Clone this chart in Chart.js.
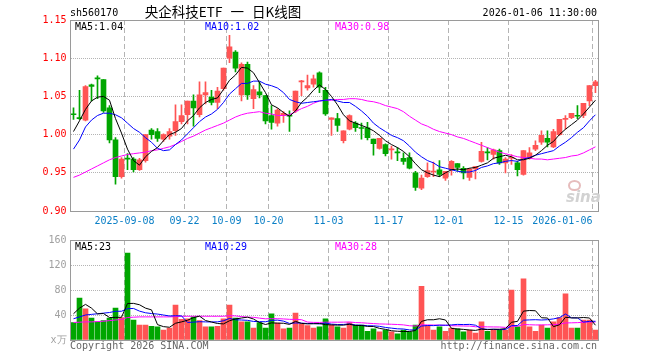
<!DOCTYPE html>
<html>
<head>
<meta charset="utf-8">
<script src="https://cdn.jsdelivr.net/npm/chart.js@4/dist/chart.umd.min.js"></script>
<style>
  body { margin: 0; background: #fff; }
  #wrap { position: relative; width: 660px; height: 360px; overflow: hidden;
          font-family: "DejaVu Sans Mono", "Liberation Mono", monospace; font-size: 10px; }
  canvas { position: absolute; left: 0; }
  #kc { top: 0; }
  #vc { top: 230px; }
  .t { position: absolute; white-space: pre; line-height: 12px; }
  .title { top: 3px; left: 223px; transform: translateX(-50%); font-family: "Noto Sans CJK SC", sans-serif;
           font-size: 13.5px; line-height: 16px; color: #000; word-spacing: 5px; }
  .logo { position: absolute; left: 566px; top: 188px; font: italic bold 15px "DejaVu Sans", sans-serif; color: #d2d2d2; }
  .eye { position: absolute; left: 568px; top: 180px; width: 9px; height: 7px; border: 2px solid #e6bcbc; border-radius: 50%; }
</style>
</head>
<body>
<div id="wrap">
  <canvas id="kc" width="660" height="230" style="width:660px;height:230px"></canvas>
  <canvas id="vc" width="660" height="130" style="width:660px;height:130px"></canvas>

  <div class="t" style="left:70px;top:7px;color:#000">sh560170</div>
  <div class="t title">央企科技ETF 一 日K线图</div>
  <div class="t" style="right:63px;top:7px;color:#000">2026-01-06 11:30:00</div>

  <div class="t" style="left:75px;top:21px;color:#000">MA5:1.04</div>
  <div class="t" style="left:205px;top:21px;color:#0000ff">MA10:1.02</div>
  <div class="t" style="left:335px;top:21px;color:#ff00ff">MA30:0.98</div>

  <div class="eye"></div>
  <div class="logo">sina</div>

  <div class="t" style="left:75px;top:241px;color:#000">MA5:23</div>
  <div class="t" style="left:205px;top:241px;color:#0000ff">MA10:29</div>
  <div class="t" style="left:335px;top:241px;color:#ff00ff">MA30:28</div>

  <div class="t" style="left:70px;top:340px;color:#666">Copyright 2026 SINA.COM</div>
  <div class="t" style="right:63px;top:340px;color:#666">http://finance.sina.com.cn</div>
</div>

<script>
// trading days shown on the chart
const dates = [
  '2025-08-26','2025-08-27','2025-08-28','2025-08-29',
  '2025-09-01','2025-09-02','2025-09-03','2025-09-04','2025-09-05',
  '2025-09-08','2025-09-09','2025-09-10','2025-09-11','2025-09-12',
  '2025-09-15','2025-09-16','2025-09-17','2025-09-18','2025-09-19',
  '2025-09-22','2025-09-23','2025-09-24','2025-09-25','2025-09-26',
  '2025-09-29','2025-09-30',
  '2025-10-09','2025-10-10',
  '2025-10-13','2025-10-14','2025-10-15','2025-10-16','2025-10-17',
  '2025-10-20','2025-10-21','2025-10-22','2025-10-23','2025-10-24',
  '2025-10-27','2025-10-28','2025-10-29','2025-10-30','2025-10-31',
  '2025-11-03','2025-11-04','2025-11-05','2025-11-06','2025-11-07',
  '2025-11-10','2025-11-11','2025-11-12','2025-11-13','2025-11-14',
  '2025-11-17','2025-11-18','2025-11-19','2025-11-20','2025-11-21',
  '2025-11-24','2025-11-25','2025-11-26','2025-11-27','2025-11-28',
  '2025-12-01','2025-12-02','2025-12-03','2025-12-04','2025-12-05',
  '2025-12-08','2025-12-09','2025-12-10','2025-12-11','2025-12-12',
  '2025-12-15','2025-12-16','2025-12-17','2025-12-18','2025-12-19',
  '2025-12-22','2025-12-23','2025-12-24','2025-12-25','2025-12-26',
  '2025-12-29','2025-12-30','2025-12-31',
  '2026-01-05','2026-01-06'
];

const tickDates = ['2025-09-08','2025-09-22','2025-10-09','2025-10-20','2025-11-03',
                   '2025-11-17','2025-12-01','2025-12-15','2026-01-06'];
const tickText = ['2025-09-08','09-22','10-09','10-20','11-03','11-17','12-01','12-15','2026-01-06          '];

const openPrice = [
  1.027,1.022,1.019,1.065,1.074,1.072,1.035,0.993,0.945,0.969,
  0.968,0.954,0.966,1.006,1.004,0.994,0.998,1.005,1.017,1.026,
  1.044,1.026,1.052,1.049,1.042,1.060,1.100,1.108,1.052,1.092,
  1.047,1.056,1.051,1.025,1.015,1.025,1.025,1.031,1.069,1.061,
  1.066,1.081,1.058,1.020,1.021,0.992,1.007,1.015,1.009,1.009,
  0.994,0.982,0.987,0.980,0.977,0.969,0.970,0.950,0.930,0.945,
  0.951,0.954,0.943,0.954,0.962,0.956,0.944,0.955,0.965,0.977,
  0.974,0.979,0.963,0.969,0.963,0.948,0.970,0.981,0.990,0.995,
  0.984,1.000,1.020,1.022,1.025,1.025,1.044,1.064
];
const highPrice = [
  1.035,1.058,1.064,1.066,1.077,1.072,1.038,0.996,0.970,0.975,
  0.970,0.969,1.000,1.008,1.008,1.001,1.008,1.039,1.039,1.044,
  1.052,1.069,1.069,1.058,1.062,1.087,1.130,1.110,1.094,1.095,
  1.064,1.069,1.051,1.038,1.034,1.030,1.031,1.057,1.071,1.078,
  1.078,1.082,1.062,1.022,1.028,1.005,1.026,1.017,1.015,1.016,
  0.994,0.995,0.988,0.985,0.983,0.976,0.976,0.952,0.947,0.963,
  0.964,0.966,0.952,0.966,0.962,0.958,0.956,0.958,0.990,0.983,
  0.981,0.981,0.970,0.974,0.965,0.979,0.983,0.992,1.005,1.005,
  1.007,1.020,1.025,1.028,1.038,1.041,1.064,1.071
];
const lowPrice = [
  1.020,1.020,1.018,1.044,1.047,1.029,0.989,0.935,0.943,0.954,
  0.951,0.953,0.964,0.994,0.991,0.991,0.994,0.999,1.014,1.014,
  1.011,1.023,1.040,1.039,1.034,1.058,1.094,1.082,1.044,1.046,
  1.034,1.048,1.014,1.007,1.011,1.016,1.004,1.029,1.051,1.058,
  1.062,1.055,1.025,0.999,1.004,0.989,1.006,1.004,0.994,0.993,
  0.973,0.981,0.972,0.968,0.966,0.961,0.955,0.927,0.928,0.944,
  0.945,0.945,0.940,0.947,0.952,0.942,0.940,0.942,0.964,0.967,
  0.968,0.961,0.950,0.961,0.946,0.947,0.968,0.979,0.987,0.984,
  0.983,0.999,1.007,1.021,1.021,1.022,1.038,1.055
];
const closePrice = [
  1.026,1.021,1.063,1.063,1.073,1.031,0.993,0.945,0.968,0.968,
  0.954,0.967,1.000,1.000,0.995,1.000,1.004,1.017,1.025,1.044,
  1.035,1.052,1.055,1.042,1.057,1.087,1.115,1.087,1.092,1.052,
  1.059,1.052,1.018,1.016,1.032,1.028,1.024,1.057,1.070,1.064,
  1.073,1.062,1.027,1.022,1.012,1.005,1.025,1.009,1.008,0.996,
  0.988,0.995,0.975,0.981,0.976,0.965,0.956,0.931,0.943,0.953,
  0.952,0.948,0.952,0.965,0.957,0.950,0.955,0.958,0.978,0.976,
  0.980,0.963,0.968,0.970,0.954,0.979,0.976,0.986,0.999,0.990,
  1.004,1.020,1.021,1.028,1.024,1.041,1.064,1.069
];

const priceMa5 = [
  1.004,1.018,1.033,1.044,1.049,1.050,1.045,1.021,1.002,0.981,
  0.966,0.960,0.971,0.978,0.983,0.992,1.000,1.003,1.008,1.018,
  1.025,1.035,1.042,1.046,1.048,1.059,1.071,1.078,1.088,1.087,
  1.081,1.068,1.055,1.039,1.035,1.029,1.024,1.031,1.042,1.049,
  1.058,1.065,1.059,1.050,1.039,1.026,1.018,1.015,1.012,1.009,
  1.005,0.999,0.992,0.987,0.983,0.978,0.971,0.962,0.954,0.950,
  0.947,0.945,0.950,0.954,0.955,0.954,0.956,0.957,0.960,0.963,
  0.969,0.971,0.973,0.971,0.967,0.967,0.969,0.973,0.979,0.986,
  0.991,1.000,1.007,1.013,1.019,1.027,1.036,1.045
];
const priceMa10 = [
  0.981,0.993,1.010,1.019,1.025,1.028,1.028,1.026,1.022,1.015,
  1.008,1.003,0.996,0.990,0.982,0.979,0.980,0.987,0.993,1.001,
  1.009,1.017,1.023,1.027,1.033,1.042,1.053,1.060,1.067,1.067,
  1.070,1.070,1.066,1.064,1.061,1.055,1.046,1.043,1.041,1.042,
  1.043,1.044,1.045,1.046,1.044,1.042,1.042,1.037,1.031,1.024,
  1.015,1.009,1.004,0.999,0.996,0.992,0.985,0.977,0.971,0.966,
  0.963,0.958,0.956,0.954,0.952,0.951,0.951,0.953,0.957,0.959,
  0.962,0.963,0.965,0.966,0.965,0.968,0.970,0.973,0.975,0.977,
  0.979,0.985,0.990,0.996,1.003,1.009,1.018,1.026
];
const priceMa30 = [
  0.944,0.947,0.951,0.955,0.959,0.963,0.967,0.970,0.972,0.974,
  0.975,0.976,0.977,0.979,0.980,0.982,0.984,0.987,0.991,0.995,
  0.998,1.002,1.006,1.009,1.012,1.015,1.019,1.023,1.026,1.028,
  1.029,1.030,1.028,1.027,1.025,1.025,1.026,1.030,1.034,1.037,
  1.041,1.044,1.045,1.045,1.046,1.046,1.047,1.047,1.046,1.044,
  1.043,1.041,1.038,1.036,1.034,1.030,1.024,1.019,1.014,1.011,
  1.007,1.004,1.002,1.000,0.997,0.995,0.992,0.989,0.986,0.983,
  0.980,0.977,0.975,0.973,0.971,0.970,0.969,0.968,0.968,0.967,
  0.968,0.969,0.970,0.972,0.973,0.976,0.980,0.984
];

// volume, x10k
const volume = [
  28,67,50,35,29,31,35,51,36,139,
  32,24,24,22,21,16,19,56,33,34,
  37,31,21,21,22,34,56,35,29,29,
  19,28,19,42,27,18,19,43,26,23,
  19,21,34,24,21,19,28,24,24,14,
  18,13,16,13,10,16,13,24,86,23,
  16,21,14,19,18,13,16,11,29,14,
  16,16,16,80,21,98,21,14,24,19,
  29,36,74,19,19,32,32,16
];
const volMa5 = [
  42,51,57,51,41.8,42.4,36,36.2,36.4,58.4,
  58.6,56.4,51,48.2,24.6,21.4,20.4,26.8,29,31.6,
  35.8,38.2,31.2,28.8,26.4,25.8,30.8,33.6,35.2,36.6,
  33.6,28,24.8,27.4,27,26.8,25,29.8,26.6,25.8,
  26,26.4,24.6,24.2,23.8,23.8,25.2,23.2,23.2,21.8,
  21.6,18.6,17,14.8,14,13.6,13.6,15.2,29.8,32.4,
  32.4,34,32,18.6,17.6,17,16,15.4,17.4,16.6,
  17.2,17.2,18.2,28.4,29.8,46.2,47.2,46.8,35.6,35.2,
  21.4,24.4,36.4,35.4,35.4,36,35.2,23.6
];
const volMa10 = [
  34,37,40,41,42,43,44,46,46,50.1,
  50.5,46.2,43.6,42.3,41.5,40,38.4,38.9,38.6,28.1,
  28.6,29.3,29,28.9,29,30.8,34.5,32.4,32,31.5,
  29.7,29.4,29.2,31.3,31.8,30.2,26.5,27.3,27,26.4,
  26.4,25.7,27.2,25.4,24.8,24.9,25.8,23.9,23.7,22.8,
  22.7,21.9,20.1,19,17.9,17.6,16.1,16.1,22.3,23.2,
  23,23.8,23.6,24.2,25,24.7,25,23.7,18,17.1,
  17.1,16.6,16.8,22.9,23.2,31.7,32.2,32.5,32,32.5,
  33.8,35.8,41.6,35.5,35.3,28.7,29.8,30
];
const volMa30 = [
  28,28.5,29,29,29.5,30,31,32,33,36,
  36.5,37,37,37,37,37,37,37.5,38,38,
  38,38,38,38,38,38,39,38.5,37.5,36.6,
  36.3,35,33.9,34.2,34.1,33.7,33.1,32.9,32.5,28.7,
  28.2,28.1,28.5,28.5,28.5,28.6,28.9,27.9,27.6,26.9,
  26.3,25.7,25.5,25.2,24.8,24.2,22.8,22.4,24.3,24.1,
  24,23.8,23.6,22.9,22.6,22.4,22.3,21.2,21.3,21,
  20.9,20.8,20.2,22,22,24.7,24.4,24.1,24.1,24.3,
  24.6,25.4,27.3,27.5,27.8,28.4,29,28.7
];

const FONT_FAMILY = '"DejaVu Sans Mono", "Liberation Mono", monospace';
const UP = '#ff5454';
const DOWN = '#00a600';
const GRID = '#b4b4b4';
const CLEAR = 'rgba(0,0,0,0)';

const tickIndex = tickDates.map(d => dates.indexOf(d));
const barColors = closePrice.map((c, i) => (c >= openPrice[i] ? UP : DOWN));

// grey box round the plot area
const framePlugin = {
  id: 'frame',
  afterDatasetsDraw(chart) {
    const a = chart.chartArea;
    const ctx = chart.ctx;
    const x0 = Math.floor(a.left) + 0.5, y0 = Math.floor(a.top) + 0.5;
    const x1 = Math.floor(a.right) + 0.5, y1 = Math.floor(a.bottom) + 0.5;
    ctx.save();
    ctx.strokeStyle = '#9a9a9a';
    ctx.lineWidth = 1;
    ctx.strokeRect(x0, y0, x1 - x0, y1 - y0);
    ctx.restore();
  }
};

function dateAxis(showLabels) {
  return {
    offset: true,
    grid: {
      offset: true,
      drawTicks: false,
      lineWidth: 1,
      color: ctx => (tickIndex.includes(ctx.index) ? GRID : CLEAR)
    },
    border: { display: false, dash: [5, 3] },
    ticks: {
      display: showLabels,
      autoSkip: false,
      minRotation: 0,
      maxRotation: 0,
      padding: 4,
      labelOffset: -3,
      color: '#0a7fc6',
      font: { family: FONT_FAMILY, size: 10 },
      callback: (v, i) => {
        const k = tickIndex.indexOf(i);
        return k < 0 ? '' : tickText[k];
      }
    },
    afterFit: s => { s.height = showLabels ? 19 : 0; }
  };
}

function maLine(data, color) {
  return { type: 'line', data: data, borderColor: color, borderWidth: 1,
           pointRadius: 0, tension: 0, order: 0 };
}

const common = {
  responsive: false,
  animation: false,
  events: [],
  plugins: { legend: { display: false }, tooltip: { enabled: false } }
};

// price (candles + MA)
new Chart(document.getElementById('kc'), {
  type: 'bar',
  data: {
    labels: dates,
    datasets: [
      maLine(priceMa5, '#000000'),
      maLine(priceMa10, '#0000ff'),
      maLine(priceMa30, '#ff00ff'),
      {
        data: dates.map((d, i) => [lowPrice[i], highPrice[i]]),
        backgroundColor: barColors, borderWidth: 0,
        barThickness: 1, grouped: false, order: 2
      },
      {
        data: dates.map((d, i) => [openPrice[i], closePrice[i]]),
        backgroundColor: barColors, borderWidth: 0,
        barThickness: 5, minBarLength: 1, grouped: false, order: 1
      }
    ]
  },
  options: {
    ...common,
    layout: { padding: { top: 20, right: 61.5, left: 0, bottom: 0 } },
    scales: {
      x: dateAxis(true),
      y: {
        min: 0.9,
        max: 1.15,
        afterFit: s => { s.width = 70.5; },
        grid: {
          drawTicks: false,
          color: ctx => (ctx.tick && ctx.tick.value > 0.91 && ctx.tick.value < 1.14 ? GRID : CLEAR)
        },
        border: { display: false, dash: [1, 1] },
        ticks: {
          stepSize: 0.05,
          padding: 4,
          color: '#ff0000',
          font: { family: FONT_FAMILY, size: 10 },
          callback: v => v.toFixed(2)
        }
      }
    }
  },
  plugins: [framePlugin]
});

// volume
new Chart(document.getElementById('vc'), {
  type: 'bar',
  data: {
    labels: dates,
    datasets: [
      maLine(volMa5, '#000000'),
      maLine(volMa10, '#0000ff'),
      maLine(volMa30, '#ff00ff'),
      {
        data: volume,
        backgroundColor: barColors, borderWidth: 0,
        barThickness: 5, grouped: false, order: 1
      }
    ]
  },
  options: {
    ...common,
    layout: { padding: { top: 10, right: 61.5, left: 0, bottom: 20 } },
    scales: {
      x: dateAxis(false),
      y: {
        min: 0,
        max: 160,
        afterFit: s => { s.width = 70.5; },
        grid: {
          drawTicks: false,
          color: ctx => (ctx.tick && ctx.tick.value > 0 && ctx.tick.value < 160 ? GRID : CLEAR)
        },
        border: { display: false, dash: [1, 1] },
        ticks: {
          stepSize: 40,
          padding: 4,
          color: '#a0a0a0',
          font: { family: FONT_FAMILY, size: 10 },
          callback: v => (v === 0 ? 'x万' : v)
        }
      }
    }
  },
  plugins: [framePlugin]
});
</script>
</body>
</html>
